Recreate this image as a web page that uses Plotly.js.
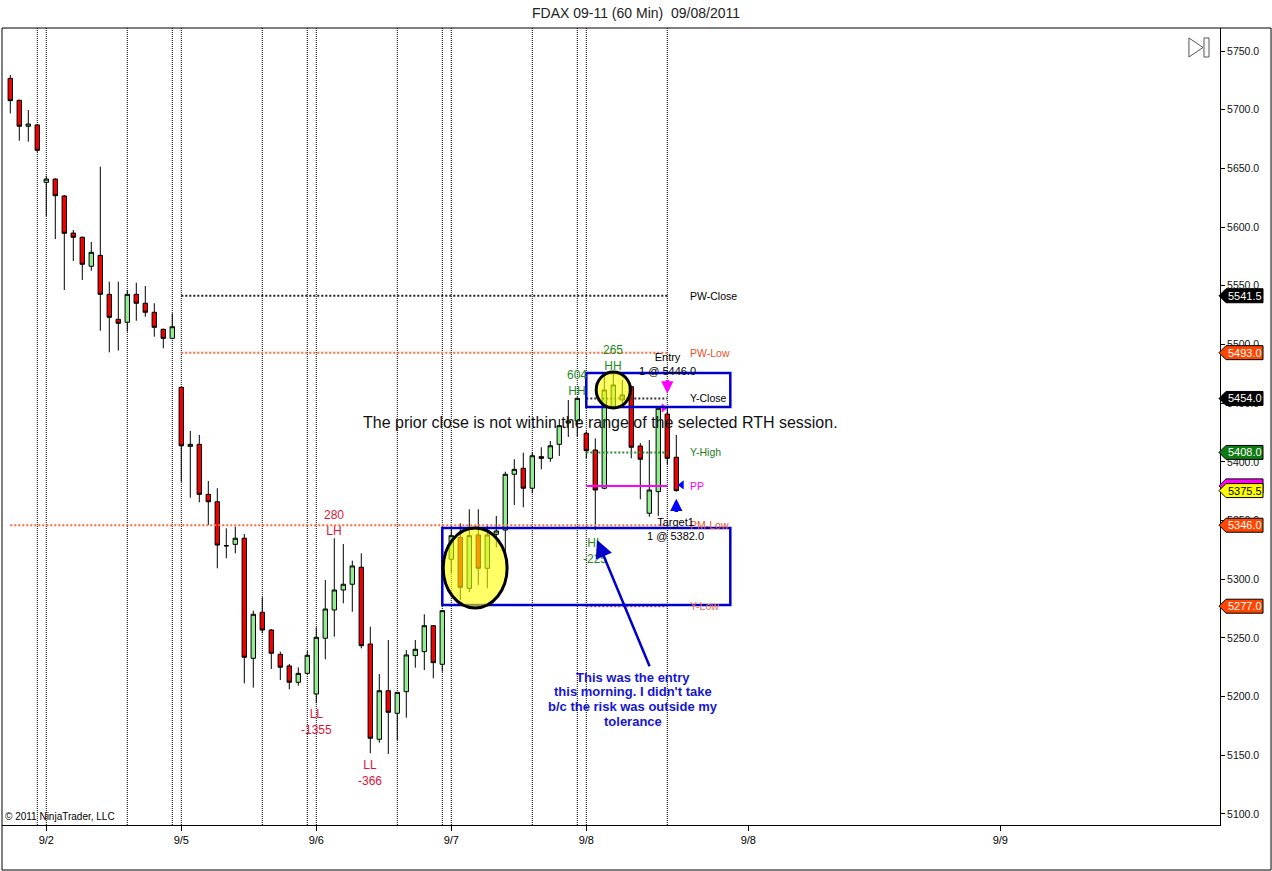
<!DOCTYPE html>
<html>
<head>
<meta charset="utf-8">
<script src="https://cdn.plot.ly/plotly-3.0.1.min.js"></script>
<style>
    html, body { margin: 0; padding: 0; background: #ffffff; }
    #chart { width: 1272px; height: 871px; }
</style>
</head>
<body>
<div id="chart"></div>
<script>
// FDAX 09-11, 60 min bars, 9/1 evening .. 9/8 midday
const opens = [
    5726.7, 5708.0, 5685.9, 5687.0, 5638.1, 5640.9, 5626.5, 5594.9, 5591.3, 5566.6,
    5575.9, 5542.7, 5521.4, 5518.9, 5542.7, 5535.1, 5527.4, 5512.9, 5505.2, 5463.5,
    5413.2, 5414.9, 5372.3, 5366.0, 5328.5, 5329.7, 5334.9, 5232.6, 5271.8, 5256.7,
    5236.0, 5226.1, 5212.2, 5219.8, 5202.2, 5249.7, 5273.8, 5290.8, 5295.7, 5310.2,
    5244.8, 5163.6, 5205.0, 5185.8, 5204.2, 5234.9, 5238.3, 5260.4, 5227.5, 5317.0,
    5335.7, 5292.2, 5337.7, 5309.3, 5338.3, 5341.9, 5389.4, 5394.5, 5377.5, 5404.4,
    5403.0, 5414.9, 5433.1, 5434.8, 5424.3, 5410.1, 5377.5, 5447.0, 5452.7, 5464.0,
    5413.5, 5356.2, 5374.6, 5440.7, 5403.9
];
const highs = [
    5729.6, 5708.5, 5699.7, 5687.5, 5643.8, 5641.5, 5627.3, 5597.5, 5592.0, 5587.3,
    5651.4, 5553.5, 5553.5, 5546.4, 5552.6, 5549.8, 5535.1, 5513.5, 5526.5, 5464.0,
    5426.3, 5422.9, 5383.7, 5377.5, 5343.4, 5344.7, 5338.5, 5273.2, 5284.6, 5257.5,
    5238.3, 5227.8, 5224.9, 5238.8, 5259.0, 5299.3, 5334.9, 5330.0, 5315.8, 5322.1,
    5259.5, 5219.2, 5248.2, 5204.0, 5239.7, 5248.2, 5270.1, 5261.0, 5273.5, 5344.7,
    5347.6, 5359.6, 5359.6, 5346.8, 5353.9, 5391.6, 5402.2, 5407.8, 5408.1, 5412.4,
    5417.7, 5436.5, 5452.7, 5455.0, 5426.0, 5420.0, 5475.4, 5475.4, 5469.7, 5465.0,
    5416.0, 5418.6, 5447.0, 5447.0, 5422.9
];
const lows = [
    5696.9, 5673.6, 5672.7, 5664.0, 5609.4, 5589.8, 5546.4, 5571.1, 5554.9, 5562.8,
    5511.7, 5493.3, 5494.7, 5510.9, 5520.2, 5523.6, 5506.6, 5496.7, 5504.5, 5383.1,
    5369.4, 5365.5, 5346.2, 5309.3, 5317.8, 5322.1, 5211.3, 5207.6, 5253.9, 5223.5,
    5214.1, 5206.2, 5209.3, 5219.0, 5194.3, 5231.8, 5251.0, 5279.5, 5272.3, 5241.1,
    5151.7, 5160.7, 5151.1, 5163.0, 5182.0, 5224.6, 5222.6, 5215.6, 5221.2, 5305.0,
    5282.3, 5289.0, 5295.1, 5292.3, 5327.0, 5322.1, 5363.2, 5361.3, 5373.2, 5393.6,
    5400.0, 5405.0, 5421.2, 5421.4, 5403.0, 5341.9, 5376.6, 5445.9, 5445.9, 5403.0,
    5368.1, 5353.3, 5353.9, 5398.0, 5374.6
];
const closes = [
    5707.7, 5685.9, 5687.8, 5665.4, 5640.9, 5626.7, 5594.7, 5591.3, 5568.3, 5578.5,
    5542.7, 5523.1, 5518.0, 5542.7, 5535.1, 5527.4, 5514.6, 5505.2, 5515.1, 5413.7,
    5414.9, 5372.3, 5366.0, 5329.1, 5328.5, 5334.9, 5233.5, 5270.1, 5256.7, 5236.9,
    5225.0, 5212.2, 5219.8, 5235.2, 5250.5, 5274.6, 5290.8, 5295.7, 5311.3, 5243.4,
    5164.5, 5205.0, 5186.6, 5203.6, 5235.5, 5240.3, 5260.4, 5228.9, 5273.2, 5337.1,
    5293.1, 5337.1, 5309.3, 5337.7, 5341.1, 5389.4, 5393.6, 5377.5, 5405.2, 5403.0,
    5413.7, 5430.8, 5434.8, 5454.1, 5409.5, 5376.0, 5461.2, 5465.5, 5457.0, 5412.4,
    5402.2, 5376.0, 5445.6, 5403.0, 5375.5
];

// session separators (bar index)
const sessionLines = [3, 4, 13, 18, 19, 28, 33, 34, 43, 48, 49, 58, 63, 64, 73];

// date ticks (bar index; last two are in the empty future space)
const dateTickBars = [4, 19, 34, 49, 64, 82, 110];
const dateTickText = ['9/2', '9/5', '9/6', '9/7', '9/8', '9/8', '9/9'];

// pivot levels
const levelNames  = ['PW-Close', 'PW-Low', 'PM-Low', 'Y-Close', 'Y-High', 'PP', 'Y-Low'];
const levelValues = [5541.5, 5493.0, 5346.0, 5454.0, 5408.0, 5379.5, 5277.0];
const levelFrom   = [19, 19, 0, 64, 64, 64, 64];
const levelTo     = [73, 73, 73, 73, 73, 73, 73];

// price markers on the right axis
const markerValues = [5541.5, 5493.0, 5454.0, 5408.0, 5379.5, 5375.5, 5346.0, 5277.0];
const markerText   = ['5541.5', '5493.0', '5454.0', '5408.0', '', '5375.5', '5346.0', '5277.0'];

// swing labels
const swingText = ['280<br>LH', 'LL<br>-1355', 'LL<br>-366', '604<br>HH', '265<br>HH', 'HL<br>-225'];
const swingBar  = [36, 34, 40, 63, 67, 65];
const swingY    = [5347.9, 5178.4, 5134.9, 5467.2, 5488.5, 5324.0];
const swingKind = ['down', 'down', 'down', 'up', 'up', 'up'];

// hand drawn objects (bar index / price)
const boxes = [
    { x0: 48, x1: 80, y0: 5278.0, y1: 5343.6 },
    { x0: 64, x1: 80, y0: 5446.7, y1: 5475.7 },
];
const ellipses = [
    { x0: 48.1, x1: 55.2, y0: 5275.5, y1: 5343.6 },
    { x0: 65.1, x1: 68.9, y0: 5445.9, y1: 5476.5 },
];
const entryOrder  = { bar: 73, price: 5446.0, tipY: 5458.2, tailY: 5471.0, fillBar: 72.6, fillY: 5445.9 };
const targetOrder = { bar: 74, price: 5382.0, tipY: 5368.6, tailY: 5356.0, fillBar: 74.6, fillY: 5380.3 };
const noteLines = [
    'This was the entry',
    'this morning. I didn\'t take',
    'b/c the risk was outside my',
    'tolerance',
];
const note = { bar: 69.2, y: 5197.9, arrowBar: 65.2, arrowY: 5333.4, tailBar: 71.1, tailY: 5224.5 };

const FONT = 'Liberation Sans, Arial, sans-serif';
const RED_TXT = '#DC143C';
const GREEN_TXT = '#228B22';
const ORANGE = '#FF4500';

const levelStyle = {
    'PW-Close': { color: '#222222', dash: '2px,2px', width: 2, text: '#000000' },
    'PW-Low':   { color: '#FF6A3D', dash: '2px,2px', width: 2, text: '#E8521E' },
    'PM-Low':   { color: '#FF6A3D', dash: '2px,2px', width: 2, text: '#E8521E' },
    'Y-Close':  { color: '#333333', dash: '2px,2px', width: 2, text: '#000000' },
    'Y-High':   { color: '#2E8B2E', dash: '2px,2px', width: 2, text: '#1E7B1E' },
    'PP':       { color: '#FF00FF', dash: 'solid', width: 2, text: '#FF00FF' },
    'Y-Low':    { color: '#B05080', dash: '2px,2px', width: 2, text: '#F07050' },
};
const markerStyle = [
    { bg: '#000000', fg: '#ffffff' },
    { bg: ORANGE, fg: '#ffffff' },
    { bg: '#000000', fg: '#ffffff' },
    { bg: '#0E7A12', fg: '#ffffff' },
    { bg: '#FF00FF', fg: '#ffffff' },
    { bg: '#FFFF00', fg: '#000000' },
    { bg: ORANGE, fg: '#ffffff' },
    { bg: ORANGE, fg: '#ffffff' },
];

function buildFigure() {
    const traces = [];
    const shapes = [];
    const annotations = [];

    // pivot level lines
    levelNames.forEach((name, i) => {
        const st = levelStyle[name];
        traces.push({
            type: 'scatter', mode: 'lines',
            x: [levelFrom[i], levelTo[i]],
            y: [levelValues[i], levelValues[i]],
            line: { color: st.color, width: st.width, dash: st.dash },
            hoverinfo: 'skip', showlegend: false,
        });
        annotations.push({
            x: 75.3, y: levelValues[i], xref: 'x', yref: 'y',
            text: name, showarrow: false, xanchor: 'left', yanchor: 'middle',
            font: { family: FONT, size: 10.5, color: st.text },
        });
    });

    traces.push({
        type: 'candlestick',
        x: opens.map((_, i) => i),
        open: opens, high: highs, low: lows, close: closes,
        increasing: { line: { color: '#000000', width: 1 }, fillcolor: '#90EE90' },
        decreasing: { line: { color: '#000000', width: 1 }, fillcolor: '#F00000' },
        whiskerwidth: 0,
        hoverinfo: 'skip', showlegend: false,
    });

    // execution markers
    traces.push({
        type: 'scatter', mode: 'markers',
        x: [entryOrder.fillBar, targetOrder.fillBar],
        y: [entryOrder.fillY, targetOrder.fillY],
        marker: { symbol: ['triangle-right', 'triangle-left'], size: 8, color: ['#FF00FF', '#0000FF'] },
        hoverinfo: 'skip', showlegend: false,
    });

    sessionLines.forEach(b => {
        shapes.push({
            type: 'line', xref: 'x', yref: 'paper', x0: b, x1: b, y0: 0, y1: 1,
            line: { color: '#000000', width: 1, dash: '1px,1px' }, layer: 'below',
        });
    });

    boxes.forEach(b => {
        shapes.push({
            type: 'rect', xref: 'x', yref: 'y', ...b,
            line: { color: '#0000C8', width: 2.5 }, fillcolor: 'rgba(0,0,0,0)', layer: 'above',
        });
    });
    ellipses.forEach(e => {
        shapes.push({
            type: 'circle', xref: 'x', yref: 'y', ...e,
            line: { color: '#000000', width: 3 }, fillcolor: 'rgba(255,255,0,0.6)', layer: 'above',
        });
    });

    // right axis price markers
    markerValues.forEach((v, i) => {
        shapes.push({
            type: 'path', xref: 'paper', xsizemode: 'pixel', xanchor: 1,
            yref: 'y', ysizemode: 'pixel', yanchor: v,
            path: 'M -1 0 L 6 7 L 43 7 L 43 -7 L 6 -7 Z',
            fillcolor: markerStyle[i].bg, line: { color: '#000000', width: 1 }, layer: 'above',
        });
        if (markerText[i]) {
            annotations.push({
                x: 1, xref: 'paper', xshift: 25, xanchor: 'center',
                y: v, yref: 'y', yanchor: 'middle', showarrow: false,
                text: markerText[i],
                font: { family: FONT, size: 11, color: markerStyle[i].fg },
            });
        }
    });

    // outer frame and the "scroll to end" icon
    shapes.push({
        type: 'rect', xref: 'paper', yref: 'paper', x0: 0, x1: 1.0419, y0: -0.0565, y1: 1,
        line: { color: '#000000', width: 1 }, fillcolor: 'rgba(0,0,0,0)', layer: 'above',
    });
    shapes.push({
        type: 'path', xref: 'paper', yref: 'paper',
        path: 'M 0.9745 0.9875 L 0.98604 0.97554 L 0.9745 0.9636 Z',
        line: { color: '#555555', width: 1 }, fillcolor: 'rgba(0,0,0,0)', layer: 'above',
    });
    shapes.push({
        type: 'rect', xref: 'paper', yref: 'paper', x0: 0.98686, x1: 0.99097, y0: 0.9636, y1: 0.9875,
        line: { color: '#555555', width: 1 }, fillcolor: 'rgba(0,0,0,0)', layer: 'above',
    });

    swingText.forEach((t, i) => {
        annotations.push({
            x: swingBar[i], y: swingY[i], xref: 'x', yref: 'y',
            text: t, showarrow: false, xanchor: 'center', yanchor: 'middle',
            font: { family: FONT, size: 12, color: swingKind[i] === 'up' ? GREEN_TXT : RED_TXT },
        });
    });

    annotations.push({
        x: entryOrder.bar, y: 5483.3, xref: 'x', yref: 'y', showarrow: false,
        text: 'Entry<br>1 @ ' + entryOrder.price.toFixed(1),
        font: { family: FONT, size: 11, color: '#000000' },
    });
    annotations.push({
        x: 73.9, y: 5342.8, xref: 'x', yref: 'y', showarrow: false,
        text: 'Target1<br>1 @ ' + targetOrder.price.toFixed(1),
        font: { family: FONT, size: 11, color: '#000000' },
    });
    annotations.push({
        x: entryOrder.bar, y: entryOrder.tipY, ax: entryOrder.bar, ay: entryOrder.tailY,
        xref: 'x', yref: 'y', axref: 'x', ayref: 'y', text: '',
        showarrow: true, arrowhead: 2, arrowsize: 0.7, arrowwidth: 3.5, arrowcolor: '#FF00FF', standoff: 0,
    });
    annotations.push({
        x: targetOrder.bar, y: targetOrder.tipY, ax: targetOrder.bar, ay: targetOrder.tailY,
        xref: 'x', yref: 'y', axref: 'x', ayref: 'y', text: '',
        showarrow: true, arrowhead: 2, arrowsize: 0.7, arrowwidth: 3.5, arrowcolor: '#0000FF', standoff: 0,
    });

    annotations.push({
        x: note.arrowBar, y: note.arrowY, ax: note.tailBar, ay: note.tailY,
        xref: 'x', yref: 'y', axref: 'x', ayref: 'y', text: '',
        showarrow: true, arrowhead: 2, arrowsize: 1.4, arrowwidth: 2.5, arrowcolor: '#0000CC', standoff: 0,
    });
    noteLines.forEach((line, i) => {
        annotations.push({
            x: note.bar, y: note.y, xref: 'x', yref: 'y', showarrow: false,
            yshift: (1.5 - i) * 14.7,
            text: '<b>' + line + '</b>', align: 'center',
            font: { family: FONT, size: 13, color: '#1616D0' },
        });
    });

    annotations.push({
        x: 0.4914, y: 0.5056, xref: 'paper', yref: 'paper', showarrow: false,
        text: 'The prior close is not within the range of the selected RTH session.',
        font: { family: FONT, size: 16, color: '#111111' },
    });
    annotations.push({
        x: 0, y: 0, xref: 'paper', yref: 'paper', xanchor: 'left', yanchor: 'bottom',
        xshift: 1, yshift: 1, showarrow: false,
        text: '© 2011 NinjaTrader, LLC',
        font: { family: FONT, size: 10, color: '#000000' },
    });

    const layout = {
        width: 1272, height: 871,
        margin: { l: 2, r: 52, t: 28, b: 46 },
        paper_bgcolor: '#ffffff', plot_bgcolor: '#ffffff',
        showlegend: false, hovermode: false,
        title: {
            text: 'FDAX 09-11 (60 Min)  09/08/2011',
            x: 0.5, xref: 'container', xanchor: 'center',
            y: 0.985, yref: 'container', yanchor: 'middle',
            font: { family: FONT, size: 14, color: '#222222' },
        },
        xaxis: {
            range: [-0.922, 134.41],
            tickmode: 'array', tickvals: dateTickBars, ticktext: dateTickText,
            ticks: 'outside', ticklen: 5, tickcolor: '#000000',
            showgrid: false, zeroline: false,
            showline: true, linecolor: '#000000', linewidth: 1,
            tickfont: { family: FONT, size: 11, color: '#000000' },
            rangeslider: { visible: false },
            fixedrange: true,
        },
        yaxis: {
            side: 'right',
            range: [5090.6, 5769.6],
            tickmode: 'linear', tick0: 5100, dtick: 50, tickformat: '.1f',
            ticks: 'outside', ticklen: 4, tickcolor: '#000000',
            showgrid: false, zeroline: false,
            showline: true, linecolor: '#000000', linewidth: 1,
            tickfont: { family: FONT, size: 10.5, color: '#111111' },
            fixedrange: true,
        },
        shapes, annotations,
    };

    const config = { displayModeBar: false, staticPlot: true, responsive: false };
    return { traces, layout, config };
}

const fig = buildFigure();
Plotly.newPlot('chart', fig.traces, fig.layout, fig.config);
</script>
</body>
</html>
